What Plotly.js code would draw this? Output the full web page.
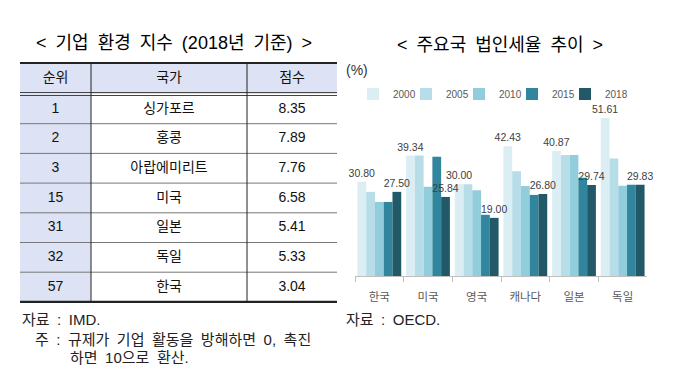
<!DOCTYPE html>
<html>
<head>
<meta charset="utf-8">
<script src="https://cdn.plot.ly/plotly-3.0.1.min.js"></script>
<style>
html,body{margin:0;padding:0;background:#fff;}
#chart{width:680px;height:380px;}
</style>
</head>
<body>
<div id="chart"></div>
<script>
// ---- Table data (기업 환경 지수) ----
const tableHeader = ['순위', '국가', '점수'];
const ranks = [1, 2, 3, 15, 31, 32, 57];
const countries = ['싱가포르', '홍콩', '아랍에미리트', '미국', '일본', '독일', '한국'];
const scores = [8.35, 7.89, 7.76, 6.58, 5.41, 5.33, 3.04];

// ---- Bar chart data (주요국 법인세율 추이) ----
const categories = ['한국', '미국', '영국', '캐나다', '일본', '독일'];
const years = ['2000', '2005', '2010', '2015', '2018'];
const rate2000 = [30.80, 39.34, 30.00, 42.43, 40.87, 51.61];
const rate2005 = [27.50, 39.34, 30.00, 34.20, 39.54, 38.36];
const rate2010 = [24.20, 29.20, 28.00, 29.40, 39.54, 29.50];
const rate2015 = [24.20, 39.00, 20.00, 26.50, 32.10, 29.80];
const rate2018 = [27.50, 25.84, 19.00, 26.80, 29.74, 29.83];
const labeledYears = ['2000', '2018'];

const W = 680, H = 380;
const FONT = 'Liberation Sans, Noto Sans CJK KR, sans-serif';
const SP = '\u2002';
const px = x => x / W;
const py = y => 1 - y / H;

const barColors = ['#dbeef4', '#b7dde8', '#92cddc', '#31859c', '#215968'];
const series = [rate2000, rate2005, rate2010, rate2015, rate2018];
const legendId = i => (i === 0 ? 'legend' : 'legend' + (i + 1));

const traces = series.map((vals, i) => ({
  type: 'bar',
  name: years[i],
  legend: legendId(i),
  x: categories,
  y: vals,
  marker: {color: barColors[i], line: {width: 0}},
  text: labeledYears.includes(years[i]) ? vals.map(v => v.toFixed(2)) : vals.map(() => ''),
  textposition: 'outside',
  constraintext: 'none',
  cliponaxis: false,
  textfont: {family: FONT, size: 10.5, color: '#404040'},
  hoverinfo: 'skip',
  xaxis: 'x', yaxis: 'y'
}));

// Table geometry
const T_LEFT = 20, T_RIGHT = 337, T_TOP = 63, HEAD_H = 31, ROW_H = 29.7;
const COL_B = [T_LEFT, 91, 247, T_RIGHT];
const T_BOTTOM = T_TOP + HEAD_H + ROW_H * ranks.length;
const LAV = '#dde3f4';

traces.push({
  type: 'table',
  domain: {x: [px(T_LEFT), px(T_RIGHT)], y: [0, py(T_TOP)]},
  columnwidth: [COL_B[1] - COL_B[0], COL_B[2] - COL_B[1], COL_B[3] - COL_B[2]],
  header: {
    values: tableHeader,
    height: HEAD_H,
    fill: {color: LAV},
    line: {width: 0, color: LAV},
    align: 'center',
    font: {family: FONT, size: 14, color: '#111'}
  },
  cells: {
    values: [ranks.map(String), countries, scores.map(v => v.toFixed(2))],
    height: ROW_H,
    fill: {color: [LAV, '#ffffff', '#ffffff']},
    line: {width: 0, color: [LAV, '#ffffff', '#ffffff']},
    align: 'center',
    font: {family: FONT, size: 14, color: '#111'}
  }
});

// Table rule lines
const shapes = [];
const hline = (y, w, c) => shapes.push({type: 'line', xref: 'paper', yref: 'paper',
  x0: px(T_LEFT), x1: px(T_RIGHT), y0: py(y), y1: py(y), line: {color: c, width: w}});
hline(T_TOP, 2.2, '#222');
hline(T_TOP + HEAD_H - 1.5, 1, '#444');
hline(T_TOP + HEAD_H + 1.5, 1, '#444');
for (let i = 1; i < ranks.length; i++) hline(T_TOP + HEAD_H + i * ROW_H, 1, '#777');
hline(T_BOTTOM, 2.2, '#222');
[COL_B[1], COL_B[2]].forEach(x => shapes.push({type: 'line', xref: 'paper', yref: 'paper',
  x0: px(x), x1: px(x), y0: py(T_TOP), y1: py(T_BOTTOM), line: {color: '#222', width: 1}}));

const ann = (text, x, y, size, anchor, color) => ({
  text, x: px(x), y: py(y), xref: 'paper', yref: 'paper', showarrow: false,
  xanchor: anchor || 'center', yanchor: 'middle',
  font: {family: FONT, size, color: color || '#111'}
});

const annotations = [
  ann(['<', '기업', '환경', '지수', '(2018년', '기준)', '>'].join(SP), 174, 43, 18, 'center', '#000'),
  ann(['<', '주요국', '법인세율', '추이', '>'].join(SP), 500, 45, 18, 'center', '#000'),
  ann('(%)', 344, 70, 14, 'left', '#333'),
  ann(['자료', ':', 'IMD.'].join(SP), 20, 319, 15, 'left', '#222'),
  ann(['주', ':', '규제가', '기업', '활동을', '방해하면', '0,', '촉진'].join(SP), 33, 339, 15, 'left', '#222'),
  ann(['하면', '10으로', '환산.'].join(SP), 68, 357, 15, 'left', '#222'),
  ann(['자료', ':', 'OECD.'].join(SP), 344, 319, 15, 'left', '#222')
];

const PLOT_L = 355, PLOT_R = 647, BASE = 276, PX_PER_UNIT = 3.06, PLOT_T = 100;
const LEG_X = 353, LEG_STEP = 53;

const layout = {
  width: W, height: H,
  margin: {l: 0, r: 0, t: 0, b: 0, autoexpand: false},
  paper_bgcolor: '#fff', plot_bgcolor: 'rgba(0,0,0,0)',
  showlegend: true,
  barmode: 'group', bargap: 0.1, bargroupgap: 0,
  xaxis: {
    domain: [px(PLOT_L), px(PLOT_R)],
    type: 'category', range: [-0.5, categories.length - 0.5],
    showline: true, linecolor: '#bfbfbf', linewidth: 1,
    ticks: 'outside', tickson: 'boundaries', ticklen: 5, tickcolor: '#bfbfbf',
    ticklabelstandoff: 10,
    tickfont: {family: FONT, size: 11.5, color: '#595959'},
    showgrid: false, zeroline: false, fixedrange: true
  },
  yaxis: {
    domain: [py(BASE), py(PLOT_T)],
    range: [0, (BASE - PLOT_T) / PX_PER_UNIT],
    visible: false, fixedrange: true
  },
  shapes, annotations
};

years.forEach((y, i) => {
  layout[legendId(i)] = {
    orientation: 'h', x: px(LEG_X + LEG_STEP * i), y: py(94),
    xanchor: 'left', yanchor: 'middle',
    font: {family: FONT, size: 10, color: '#595959'},
    bgcolor: 'rgba(0,0,0,0)', itemclick: false, itemdoubleclick: false
  };
});

Plotly.newPlot('chart', traces, layout, {staticPlot: true, displayModeBar: false});
</script>
</body>
</html>
